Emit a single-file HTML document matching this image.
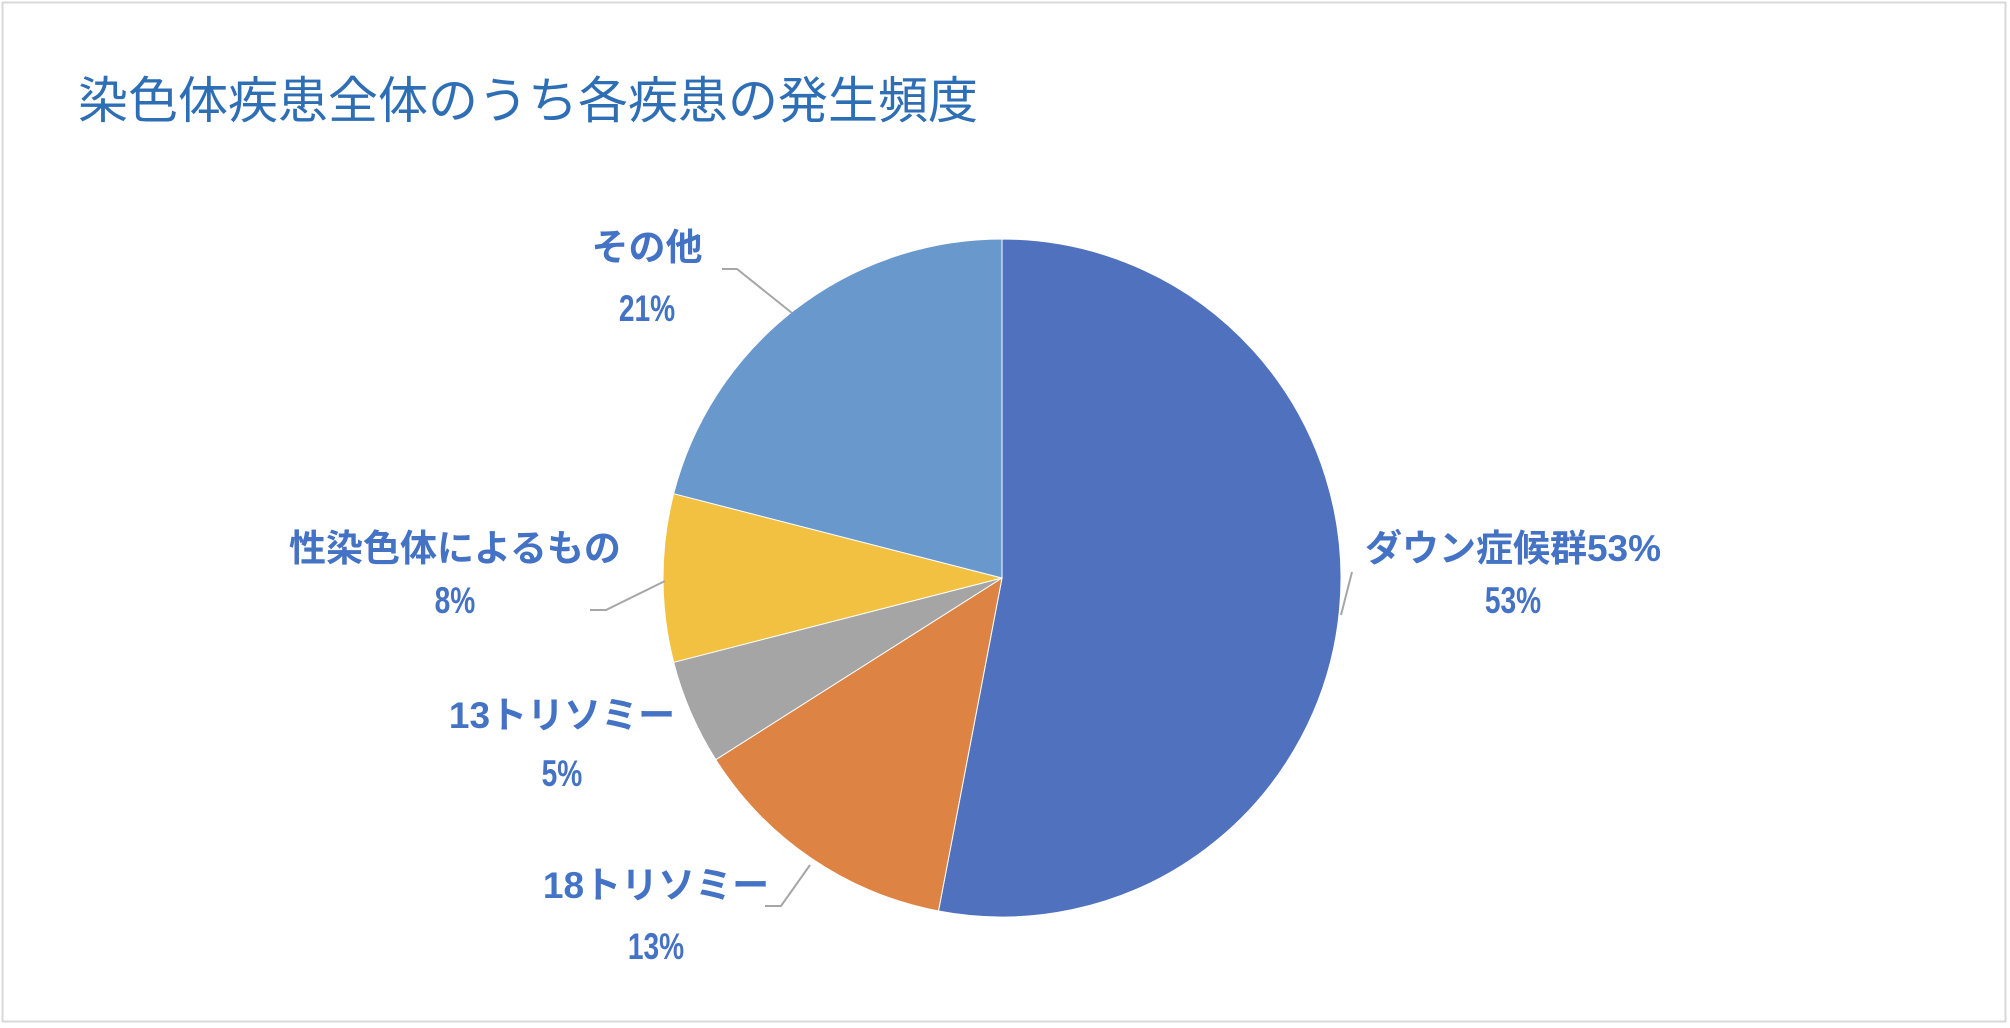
<!DOCTYPE html>
<html><head><meta charset="utf-8"><style>
html,body{margin:0;padding:0;background:#fff}
svg{display:block}
text{font-family:"Liberation Sans","Noto Sans CJK JP",sans-serif}
</style></head><body>
<svg width="2010" height="1028" viewBox="0 0 2010 1028" id="chart">
<rect x="2.5" y="2.5" width="2003" height="1019" fill="#fff" stroke="#d9d9d9" stroke-width="2"/>
<text x="78" y="118" font-size="50" fill="#2e6eb5">染色体疾患全体のうち各疾患の発生頻度</text>
<g id="slices"></g>
<g id="leaders" stroke="#a6a6a6" stroke-width="2" fill="none"></g>
<g id="labels"></g>
</svg>
<script>
const categories = ["ダウン症候群53%","18トリソミー","13トリソミー","性染色体によるもの","その他"];
const values = [53,13,5,8,21];
const valueLabels = ["53%","13%","5%","8%","21%"];
const colors = ["#4f71be","#dd8344","#a5a5a5","#f2c142","#6998cd"];
const cx=1002, cy=578, r=339;
const ns="http://www.w3.org/2000/svg";
const total=values.reduce((a,b)=>a+b,0);
const sg=document.getElementById('slices');
let a0=0;
function pt(a,rr){return [cx+rr*Math.sin(a), cy-rr*Math.cos(a)];}
values.forEach((v,i)=>{
  const a1=a0+v/total*2*Math.PI;
  const [x0,y0]=pt(a0,r),[x1,y1]=pt(a1,r);
  const p=document.createElementNS(ns,'path');
  p.setAttribute('d',`M${cx},${cy} L${x0},${y0} A${r},${r} 0 ${(a1-a0)>Math.PI?1:0} 1 ${x1},${y1} Z`);
  p.setAttribute('fill',colors[i]);
  p.setAttribute('stroke','#fff');
  p.setAttribute('stroke-width','1');
  
  
  sg.appendChild(p);
  a0=a1;
});
const labelPos=[[1513,551,603],[656,888,949],[562,718,776],[455,551,603],[647,250,311]];
const leaderPts=[
 [[1341,615],[1352,572]],
 [[765,906],[781,906],[810,865]],
 null,
 [[590,610],[606,610],[665,581]],
 [[722,269],[737,269],[792,313]]
];
const lg=document.getElementById('labels');
const ld=document.getElementById('leaders');
categories.forEach((c,i)=>{
  const [x,y1,y2]=labelPos[i];
  [[c,y1],[valueLabels[i],y2]].forEach(([s,y],k)=>{
    const t=document.createElementNS(ns,'text');
    t.setAttribute('x',x);t.setAttribute('y',y);
    t.setAttribute('text-anchor','middle');
    t.setAttribute('dominant-baseline','middle');
    t.setAttribute('font-size','37');
    t.setAttribute('font-weight','bold');
    t.setAttribute('fill','#4472c4');
    if(k) t.setAttribute('transform',`translate(${x},0) scale(0.76,1) translate(${-x},0)`);
    
    
    t.textContent=s;
    lg.appendChild(t);
  });
  if(leaderPts[i]){
    const pl=document.createElementNS(ns,'polyline');
    pl.setAttribute('points',leaderPts[i].map(p=>p.join(',')).join(' '));
    
    
    ld.appendChild(pl);
  }
});
</script>
</body></html>
